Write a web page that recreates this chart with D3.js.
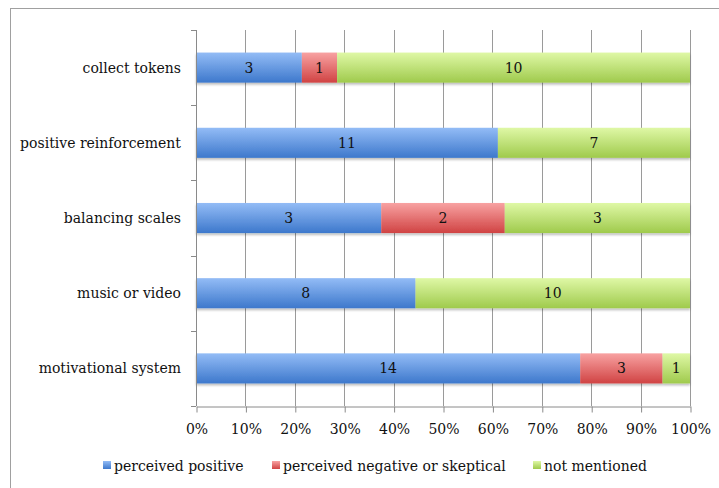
<!DOCTYPE html>
<html>
<head>
<meta charset="utf-8">
<script src="https://cdn.jsdelivr.net/npm/d3@7/dist/d3.min.js"></script>
<style>
  html, body { margin: 0; padding: 0; background: #fff; }
  svg { display: block; }
  text { font-family: "DejaVu Serif", "Liberation Serif", serif; fill: #111; }
</style>
</head>
<body>
<svg id="chart" width="719" height="488"></svg>
<script>
// Survey responses per approach, split by perception
const categories = ["collect tokens", "positive reinforcement", "balancing scales", "music or video", "motivational system"];
const seriesNames = ["perceived positive", "perceived negative or skeptical", "not mentioned"];
const positive = [3, 11, 3, 8, 14];
const negative = [1, 0, 2, 0, 3];
const notMentioned = [10, 7, 3, 10, 1];
const xTicks = [0, 0.1, 0.2, 0.3, 0.4, 0.5, 0.6, 0.7, 0.8, 0.9, 1];

const palette = [
  { top: "#93bcf6", bottom: "#3d78cc" },
  { top: "#f8a2a2", bottom: "#d04343" },
  { top: "#dff8a6", bottom: "#9fca4c" }
];

const FS = 14;
const rows = categories.map((c, i) => ({ cat: c, vals: [positive[i], negative[i], notMentioned[i]] }));

const svg = d3.select("#chart");
const margin = { left: 196, right: 29, top: 30, bottom: 82 };
const W = 719, H = 488;

// outer frame
svg.append("rect").attr("x", 10.5).attr("y", 8.5).attr("width", 740).attr("height", 500)
  .attr("fill", "none").attr("stroke", "#a0a0a0").attr("stroke-width", 1);

const x = d3.scaleLinear().domain([0, 1]).range([margin.left, W - margin.right]);
const y = d3.scaleBand().domain(categories).range([margin.top, H - margin.bottom]).paddingInner(0.6).paddingOuter(0.3);

// gradients
const defs = svg.append("defs");
palette.forEach((p, i) => {
  const g = defs.append("linearGradient").attr("id", "grad" + i)
    .attr("x1", 0).attr("y1", 0).attr("x2", 0).attr("y2", 1);
  g.append("stop").attr("offset", "0%").attr("stop-color", p.top);
  g.append("stop").attr("offset", "100%").attr("stop-color", p.bottom);
});
const shadow = defs.append("filter").attr("id", "shadow").attr("x", "-5%").attr("y", "-20%").attr("width", "110%").attr("height", "160%");
shadow.append("feDropShadow").attr("dx", 0).attr("dy", 2).attr("stdDeviation", 1.2).attr("flood-color", "#000").attr("flood-opacity", 0.25);

// vertical gridlines
svg.append("g").selectAll("line").data(xTicks.slice(1)).join("line")
  .attr("x1", d => Math.round(x(d)) + 0.5).attr("x2", d => Math.round(x(d)) + 0.5)
  .attr("y1", margin.top).attr("y2", H - margin.bottom)
  .attr("stroke", "#9a9a9a").attr("stroke-width", 1);

// bars
rows.forEach(r => {
  const total = d3.sum(r.vals);
  let acc = 0;
  const segs = r.vals.map((v, k) => {
    const s = { k, v, x0: acc / total, x1: (acc + v) / total };
    acc += v;
    return s;
  }).filter(s => s.v > 0);
  const g = svg.append("g").attr("filter", "url(#shadow)");
  g.selectAll("rect").data(segs).join("rect")
    .attr("x", s => x(s.x0)).attr("width", s => x(s.x1) - x(s.x0))
    .attr("y", y(r.cat)).attr("height", y.bandwidth())
    .attr("fill", s => `url(#grad${s.k})`);
  svg.append("g").selectAll("text").data(segs).join("text")
    .attr("x", s => (x(s.x0) + x(s.x1)) / 2)
    .attr("y", y(r.cat) + y.bandwidth() / 2)
    .attr("dy", "0.35em").attr("text-anchor", "middle")
    .attr("font-size", FS).attr("fill", "#111")
    .text(s => s.v);
});

// left axis with category ticks at band boundaries
const yAxisG = svg.append("g");
yAxisG.append("line").attr("x1", margin.left + 0.5).attr("x2", margin.left + 0.5)
  .attr("y1", margin.top).attr("y2", H - margin.bottom).attr("stroke", "#8a8a8a");
const bounds = d3.range(categories.length + 1).map(i => margin.top + i * y.step());
yAxisG.selectAll("line.t").data(bounds).join("line").attr("class", "t")
  .attr("x1", margin.left - 5).attr("x2", margin.left)
  .attr("y1", d => Math.round(d) + 0.5).attr("y2", d => Math.round(d) + 0.5)
  .attr("stroke", "#8a8a8a");
yAxisG.selectAll("text").data(categories).join("text")
  .attr("x", margin.left - 15).attr("y", d => y(d) + y.bandwidth() / 2)
  .attr("dy", "0.35em").attr("text-anchor", "end").attr("font-size", FS)
  .text(d => d);

// bottom axis
const xAxis = d3.axisBottom(x).tickValues(xTicks).tickFormat(d3.format(".0%")).tickSize(6).tickSizeOuter(0);
const xg = svg.append("g").attr("transform", `translate(0.5,${H - margin.bottom + 0.5})`).call(xAxis);
xg.select(".domain").attr("stroke", "#8a8a8a");
xg.selectAll(".tick line").attr("stroke", "#8a8a8a");
xg.selectAll(".tick text").attr("font-size", FS).attr("font-family", "DejaVu Serif, serif").attr("fill", "#111").attr("dy", "1.3em");

// legend
const legendItems = [
  { name: seriesNames[0], x: 103 },
  { name: seriesNames[1], x: 272 },
  { name: seriesNames[2], x: 533 }
];
const lg = svg.append("g");
legendItems.forEach((it, i) => {
  lg.append("rect").attr("x", it.x).attr("y", 461).attr("width", 8).attr("height", 8)
    .attr("fill", `url(#grad${i})`);
  lg.append("text").attr("x", it.x + 11).attr("y", 466).attr("dy", "0.35em")
    .attr("font-size", FS).text(it.name);
});
</script>
</body>
</html>
